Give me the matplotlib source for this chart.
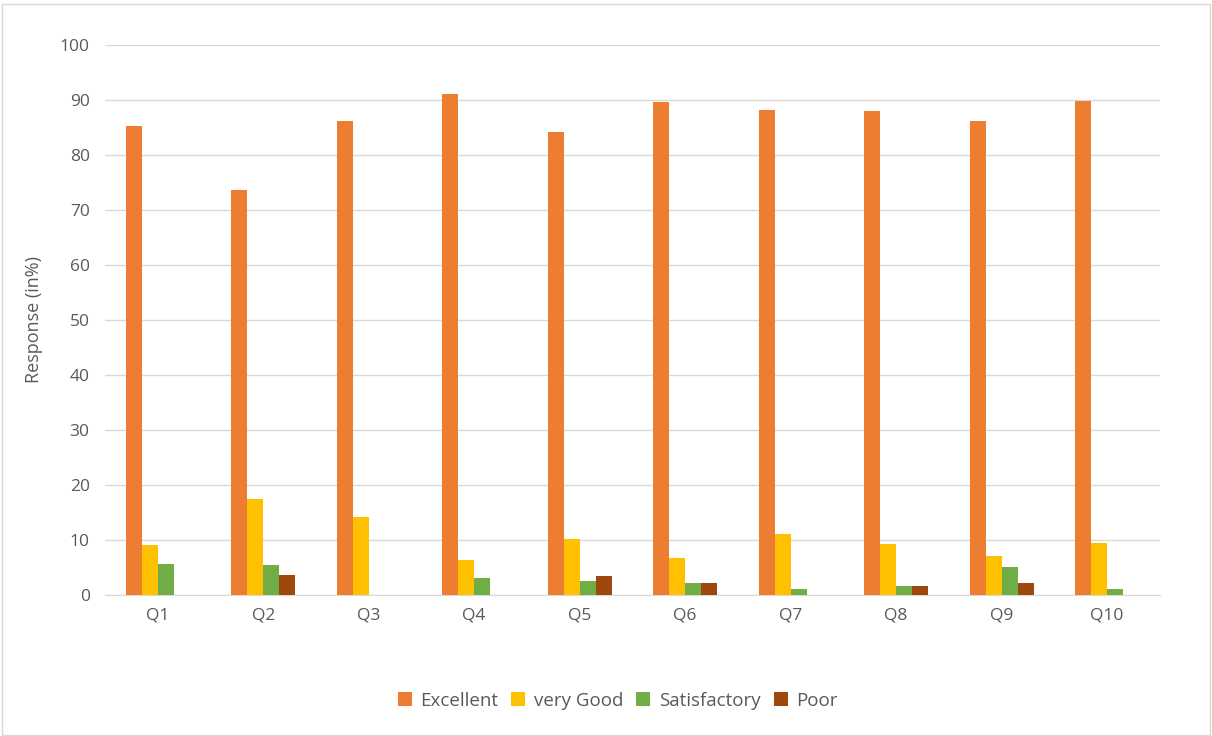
import matplotlib.pyplot as plt
import numpy as np

# Данные
questions = ['Q1', 'Q2', 'Q3', 'Q4', 'Q5', 'Q6', 'Q7', 'Q8', 'Q9', 'Q10']
excellent = [85.3, 73.7, 86.1, 91.0, 84.1, 89.6, 88.2, 88.0, 86.1, 89.8]
very_good = [9.1, 17.4, 14.2, 6.3, 10.1, 6.8, 11.0, 9.2, 7.1, 9.4]
satisfactory = [5.6, 5.5, 0, 3.1, 2.6, 2.1, 1.1, 1.6, 5.1, 1.1]
poor = [0, 3.6, 0, 0, 3.5, 2.1, 0, 1.6, 2.1, 0]

series = [('Excellent', excellent, '#ED7D31'),
          ('very Good', very_good, '#FFC000'),
          ('Satisfactory', satisfactory, '#70AD47'),
          ('Poor', poor, '#9E480E')]

plt.rcParams['font.family'] = ['Open Sans', 'DejaVu Sans']
text_color = '#595959'

fig = plt.figure(figsize=(12.12, 7.36), dpi=100)
ax = fig.add_axes([0.0866, 0.1916, 0.8704, 0.7473])

x = np.arange(len(questions))
w = 0.152
for i, (name, vals, col) in enumerate(series):
    ax.bar(x + (i - 1.5) * w, vals, w, color=col, label=name, zorder=3)

ax.set_xlim(-0.5, len(questions) - 0.5)
ax.set_ylim(0, 100)
ax.set_yticks(range(0, 101, 10))
ax.set_xticks(x)
ax.set_xticklabels(questions)
ax.yaxis.grid(True, color='#D9D9D9', linewidth=1, zorder=0)
for s in ['top', 'right', 'left']:
    ax.spines[s].set_visible(False)
ax.spines['bottom'].set_color('#D9D9D9')
ax.tick_params(axis='both', length=0, colors=text_color, labelsize=12.5)
ax.tick_params(axis='y', pad=11)
ax.tick_params(axis='x', pad=9)
ax.set_ylabel('Response (in%)', color=text_color, fontsize=13, labelpad=12)

ax.legend(loc='upper center', bbox_to_anchor=(0.486, -0.145), ncol=4, frameon=False,
          fontsize=13.5, labelcolor=text_color, handlelength=0.75, handleheight=0.75,
          handletextpad=0.45, columnspacing=0.7)

# рамка вокруг графика
fig.patches.append(plt.Rectangle((0.002, 0.002), 0.996, 0.993, transform=fig.transFigure,
                                 fill=False, edgecolor='#D9D9D9', linewidth=1))

plt.savefig('out.png', dpi=100)
